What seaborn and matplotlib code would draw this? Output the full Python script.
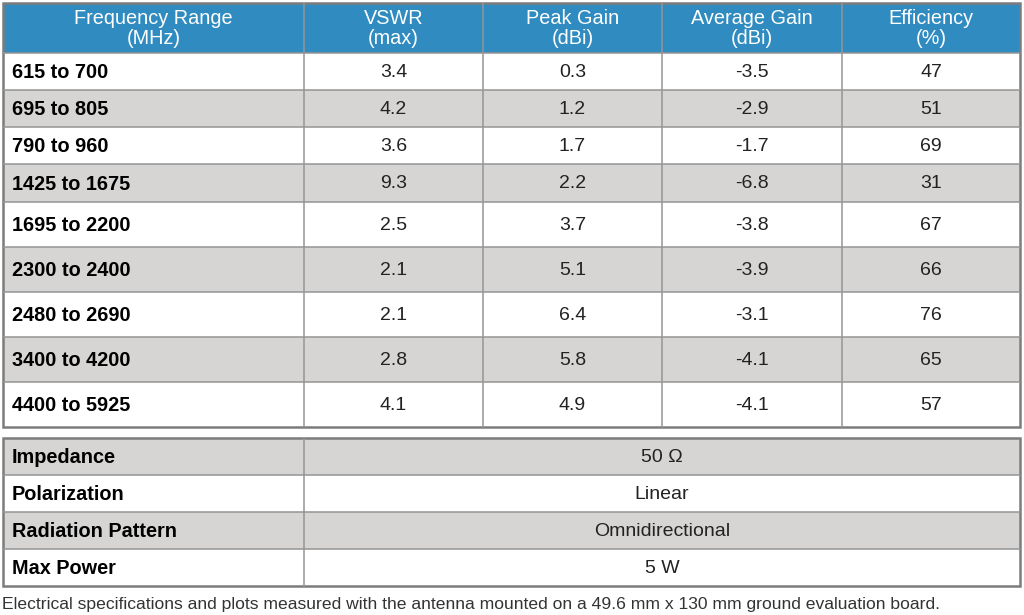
import matplotlib
matplotlib.use("Agg")
import matplotlib.pyplot as plt
from matplotlib.patches import Rectangle
import seaborn as sns

sns.set_theme(style="white")
plt.rcParams['font.family'] = ['Liberation Sans', 'DejaVu Sans']

# table data
headers = ["Frequency Range\n(MHz)", "VSWR\n(max)", "Peak Gain\n(dBi)", "Average Gain\n(dBi)", "Efficiency\n(%)"]
freq_ranges = ["615 to 700", "695 to 805", "790 to 960", "1425 to 1675", "1695 to 2200",
               "2300 to 2400", "2480 to 2690", "3400 to 4200", "4400 to 5925"]
vswr = ["3.4", "4.2", "3.6", "9.3", "2.5", "2.1", "2.1", "2.8", "4.1"]
peak_gain = ["0.3", "1.2", "1.7", "2.2", "3.7", "5.1", "6.4", "5.8", "4.9"]
avg_gain = ["-3.5", "-2.9", "-1.7", "-6.8", "-3.8", "-3.9", "-3.1", "-4.1", "-4.1"]
efficiency = ["47", "51", "69", "31", "67", "66", "76", "65", "57"]
props = ["Impedance", "Polarization", "Radiation Pattern", "Max Power"]
prop_values = ["50 \u03a9", "Linear", "Omnidirectional", "5 W"]
footnote = "Electrical specifications and plots measured with the antenna mounted on a 49.6 mm x 130 mm ground evaluation board."

# layout (pixels)
col_edges = [3, 304, 483, 662, 842, 1020]
row_edges = [3, 53, 90, 127, 164, 202, 247, 292, 337, 382, 427]
row_edges2 = [438, 475, 512, 549, 586]

blue = "#2f8bc0"
gray = "#d7d5d4"
line = "#959595"
outer = "#7c7c7c"
txt = "#222222"

fig = plt.figure(figsize=(10.24, 6.15), dpi=100)
ax = fig.add_axes([0, 0, 1, 1])
ax.set_xlim(0, 1024)
ax.set_ylim(615, 0)
ax.axis("off")

# header
ax.add_patch(Rectangle((col_edges[0], row_edges[0]), col_edges[-1] - col_edges[0],
                       row_edges[1] - row_edges[0], facecolor=blue, edgecolor="none"))
for j, h in enumerate(headers):
    cx = (col_edges[j] + col_edges[j + 1]) / 2
    ax.text(cx, (row_edges[0] + row_edges[1]) / 2 + 0.5, h, color="white", fontsize=14.3,
            ha="center", va="center", linespacing=1.05)

# body rows
cols = [freq_ranges, vswr, peak_gain, avg_gain, efficiency]
for i in range(len(freq_ranges)):
    y0, y1 = row_edges[i + 1], row_edges[i + 2]
    fc = gray if i % 2 == 1 else "white"
    ax.add_patch(Rectangle((col_edges[0], y0), col_edges[-1] - col_edges[0], y1 - y0,
                           facecolor=fc, edgecolor="none"))
    cy = (y0 + y1) / 2 + 1
    for j, c in enumerate(cols):
        if j == 0:
            ax.text(col_edges[0] + 9, cy, c[i], color="black", fontsize=14.3, fontweight="bold",
                    ha="left", va="center")
        else:
            ax.text((col_edges[j] + col_edges[j + 1]) / 2, cy, c[i], color=txt, fontsize=14,
                    ha="center", va="center")

# grid lines top table
for y in row_edges[2:-1]:
    ax.plot([col_edges[0], col_edges[-1]], [y, y], color=line, lw=1.1)
for x in col_edges[1:-1]:
    ax.plot([x, x], [row_edges[0], row_edges[-1]], color=line, lw=1.1)
ax.plot([col_edges[0], col_edges[-1]], [row_edges[1], row_edges[1]], color=line, lw=1.1)
ax.add_patch(Rectangle((col_edges[0], row_edges[0]), col_edges[-1] - col_edges[0],
                       row_edges[-1] - row_edges[0], facecolor="none", edgecolor=outer, lw=1.8))

# property table
for i, (p, v) in enumerate(zip(props, prop_values)):
    y0, y1 = row_edges2[i], row_edges2[i + 1]
    fc = gray if i % 2 == 0 else "white"
    ax.add_patch(Rectangle((col_edges[0], y0), col_edges[-1] - col_edges[0], y1 - y0,
                           facecolor=fc, edgecolor="none"))
    cy = (y0 + y1) / 2 + 1
    ax.text(col_edges[0] + 9, cy, p, color="black", fontsize=14.3, fontweight="bold",
            ha="left", va="center")
    ax.text((col_edges[1] + col_edges[-1]) / 2, cy, v, color=txt, fontsize=14,
            ha="center", va="center")
for y in row_edges2[1:-1]:
    ax.plot([col_edges[0], col_edges[-1]], [y, y], color=line, lw=1.1)
ax.plot([col_edges[1], col_edges[1]], [row_edges2[0], row_edges2[-1]], color=line, lw=1.1)
ax.add_patch(Rectangle((col_edges[0], row_edges2[0]), col_edges[-1] - col_edges[0],
                       row_edges2[-1] - row_edges2[0], facecolor="none", edgecolor=outer, lw=1.8))

ax.text(2, 604.5, footnote, color="#333333", fontsize=12.6, ha="left", va="center")

fig.savefig("out.png", dpi=100)
